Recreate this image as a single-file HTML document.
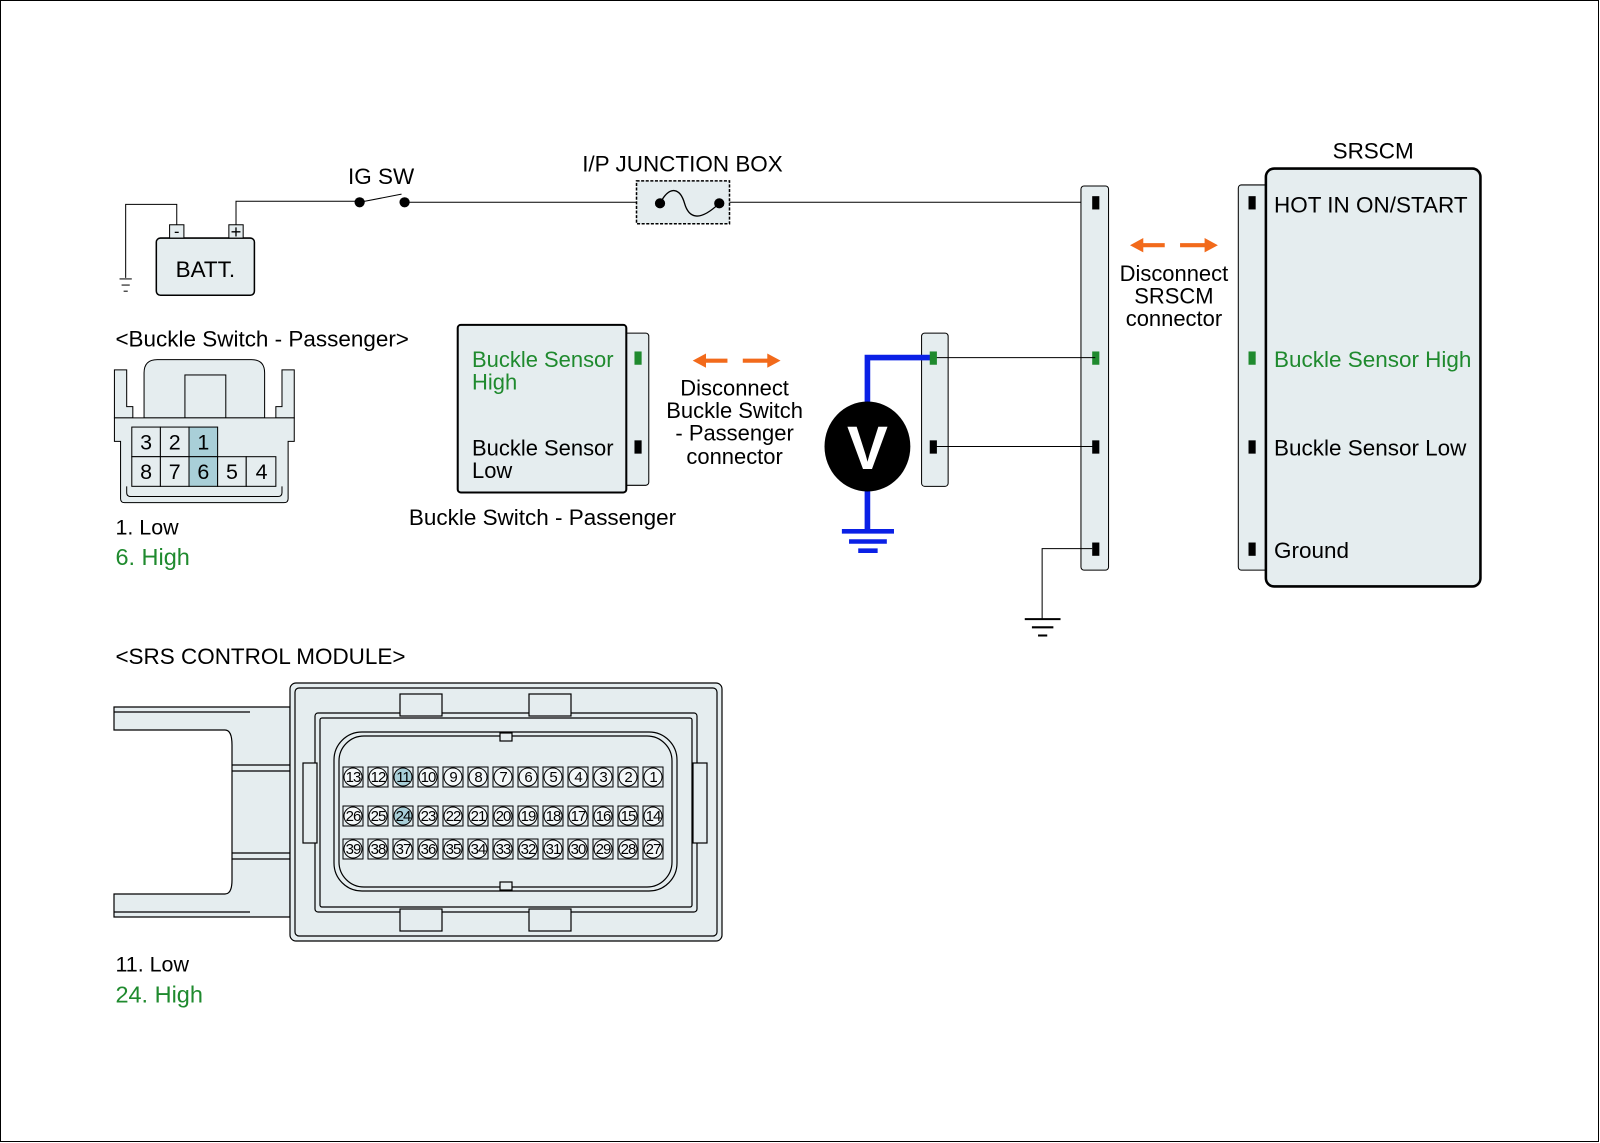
<!DOCTYPE html>
<html><head><meta charset="utf-8"><style>
html,body{margin:0;padding:0;background:#fff}
svg{display:block}
text{font-family:"Liberation Sans",Arial,sans-serif;fill:#000}
.g{fill:#1f8a2e}
</style></head><body>
<svg width="1600" height="1143" viewBox="0 0 1600 1143" xmlns="http://www.w3.org/2000/svg">
<rect x="0.5" y="0.5" width="1598" height="1141" fill="#fff" stroke="#000" stroke-width="1"/>
<g transform="scale(1.0217)">
<!-- battery -->
<rect x="153" y="233" width="96" height="56" rx="4" fill="#e5edef" stroke="#000" stroke-width="1.5"/>
<text x="201" y="271" font-size="22" text-anchor="middle">BATT.</text>
<rect x="166" y="220" width="14" height="13" fill="#e5edef" stroke="#000"/>
<rect x="224" y="220" width="14" height="13" fill="#e5edef" stroke="#000"/>
<text x="173" y="232" font-size="16" text-anchor="middle">-</text>
<text x="231" y="233" font-size="18" text-anchor="middle">+</text>
<polyline points="173,220 173,200 123,200 123,272" fill="none" stroke="#000"/>
<line x1="117" y1="273" x2="129" y2="273" stroke="#000"/>
<line x1="119" y1="279" x2="127" y2="279" stroke="#000"/>
<line x1="121" y1="285" x2="125" y2="285" stroke="#000"/>
<polyline points="231,220 231,197 352,197" fill="none" stroke="#000"/>
<circle cx="352" cy="198" r="5" fill="#000"/>
<circle cx="396" cy="198" r="5" fill="#000"/>
<line x1="352" y1="198" x2="393" y2="190" stroke="#000"/>
<line x1="396" y1="198" x2="1072" y2="198" stroke="#000"/>
<text x="373" y="180" font-size="22" text-anchor="middle">IG SW</text>
<!-- junction box -->
<rect x="623" y="177" width="91" height="42" fill="#e5edef" stroke="#000" stroke-width="1.5" stroke-dasharray="3,1.5"/>
<circle cx="646" cy="199" r="5" fill="#000"/>
<circle cx="704" cy="199" r="5" fill="#000"/>
<path d="M646,199 C656,180 666,185 670,199 C674,213 684,218 704,199" fill="none" stroke="#000" stroke-width="1.3"/>
<text x="668" y="168" font-size="22" text-anchor="middle">I/P JUNCTION BOX</text>
<!-- main connector bar -->
<rect x="1058" y="182" width="27" height="376" rx="3" fill="#e5edef" stroke="#000" stroke-width="1"/>
<rect x="1069" y="192" width="7" height="13" fill="#000"/>
<rect x="1069" y="344" width="7" height="13" fill="#1f8a2e"/>
<rect x="1069" y="431" width="7" height="13" fill="#000"/>
<rect x="1069" y="531" width="7" height="13" fill="#000"/>
<polyline points="1069,537 1020,537 1020,606" fill="none" stroke="#000"/>
<line x1="1003" y1="606" x2="1038" y2="606" stroke="#000" stroke-width="2"/>
<line x1="1010" y1="614" x2="1031" y2="614" stroke="#000" stroke-width="2"/>
<line x1="1016" y1="622" x2="1025" y2="622" stroke="#000" stroke-width="2"/>
<!-- arrows SRSCM -->
<g fill="#f26a1b" stroke="#f26a1b">
<line x1="1116" y1="240" x2="1140" y2="240" stroke-width="4"/>
<polygon points="1106,240 1119,233 1119,247" stroke="none"/>
<line x1="1155" y1="240" x2="1180" y2="240" stroke-width="4"/>
<polygon points="1192,240 1179,233 1179,247" stroke="none"/>
</g>
<text x="1149" y="275" font-size="21.5" text-anchor="middle">Disconnect</text>
<text x="1149" y="297" font-size="21.5" text-anchor="middle">SRSCM</text>
<text x="1149" y="319" font-size="21.5" text-anchor="middle">connector</text>
<!-- SRSCM -->
<text x="1344" y="155" font-size="22" text-anchor="middle">SRSCM</text>
<rect x="1212" y="181" width="30" height="377" rx="3" fill="#e5edef" stroke="#000" stroke-width="1"/>
<rect x="1239" y="165" width="210" height="409" rx="8" fill="#e5edef" stroke="#000" stroke-width="2.5"/>
<rect x="1222" y="192" width="7" height="13" fill="#000"/>
<rect x="1222" y="344" width="7" height="13" fill="#1f8a2e"/>
<rect x="1222" y="431" width="7" height="13" fill="#000"/>
<rect x="1222" y="531" width="7" height="13" fill="#000"/>
<text x="1247" y="208" font-size="22">HOT IN ON/START</text>
<text x="1247" y="359" font-size="22" class="g">Buckle Sensor High</text>
<text x="1247" y="446" font-size="22">Buckle Sensor Low</text>
<text x="1247" y="546" font-size="22">Ground</text>
<!-- buckle switch box -->
<rect x="610" y="326" width="25" height="149" rx="3" fill="#e5edef" stroke="#000" stroke-width="1"/>
<rect x="448" y="318" width="165" height="164" rx="3" fill="#e5edef" stroke="#000" stroke-width="2"/>
<rect x="621" y="344" width="7" height="13" fill="#1f8a2e"/>
<rect x="621" y="431" width="7" height="13" fill="#000"/>
<text x="462" y="359" font-size="21.5" class="g">Buckle Sensor</text>
<text x="462" y="381" font-size="21.5" class="g">High</text>
<text x="462" y="446" font-size="21.5">Buckle Sensor</text>
<text x="462" y="468" font-size="21.5">Low</text>
<text x="531" y="514" font-size="22" text-anchor="middle">Buckle Switch - Passenger</text>
<g fill="#f26a1b" stroke="#f26a1b">
<line x1="688" y1="353" x2="712" y2="353" stroke-width="4"/>
<polygon points="678,353 691,346 691,360" stroke="none"/>
<line x1="727" y1="353" x2="752" y2="353" stroke-width="4"/>
<polygon points="764,353 751,346 751,360" stroke="none"/>
</g>
<text x="719" y="387" font-size="21.5" text-anchor="middle">Disconnect</text>
<text x="719" y="409" font-size="21.5" text-anchor="middle">Buckle Switch</text>
<text x="719" y="431" font-size="21.5" text-anchor="middle">- Passenger</text>
<text x="719" y="454" font-size="21.5" text-anchor="middle">connector</text>
<!-- small connector + meter -->
<rect x="902" y="326" width="26" height="150" rx="3" fill="#e5edef" stroke="#000" stroke-width="1"/>
<line x1="914" y1="350" x2="1072" y2="350" stroke="#000"/>
<line x1="914" y1="437" x2="1072" y2="437" stroke="#000"/>
<polyline points="912,350 849,350 849,420" fill="none" stroke="#0a20e6" stroke-width="5.5"/>
<line x1="849" y1="460" x2="849" y2="520" stroke="#0a20e6" stroke-width="5.5"/>
<line x1="824" y1="520" x2="875" y2="520" stroke="#0a20e6" stroke-width="4.5"/>
<line x1="831" y1="530" x2="868" y2="530" stroke="#0a20e6" stroke-width="4.5"/>
<line x1="840" y1="539" x2="859" y2="539" stroke="#0a20e6" stroke-width="4.5"/>
<rect x="910" y="344" width="7" height="13" fill="#1f8a2e"/>
<rect x="910" y="431" width="7" height="13" fill="#000"/>
<ellipse cx="849" cy="437" rx="42" ry="44" fill="#000"/>
<text x="849" y="459" font-size="60" font-weight="bold" text-anchor="middle" style="fill:#fff">V</text>
<!-- buckle switch connector drawing -->
<text x="113" y="339" font-size="22">&lt;Buckle Switch - Passenger&gt;</text>
<g fill="#e5edef" stroke="#000" stroke-width="1">
<path d="M141,409 L141,365 Q141,352 154,352 L246,352 Q259,352 259,365 L259,409 Z"/>
<rect x="181" y="367" width="40" height="42"/>
<path d="M112,409 L112,362 L124,362 L124,398 L130,398 L130,409 Z"/>
<path d="M288,409 L288,362 L276,362 L276,398 L270,398 L270,409 Z"/>
<path d="M112,409 L288,409 L288,432 L282,432 L282,488 Q282,492 278,492 L122,492 Q118,492 118,488 L118,432 L112,432 Z"/>
<path d="M124,476 L124,482 Q124,486 128,486 L272,486 Q276,486 276,482 L276,476" fill="none"/>
<rect x="129" y="418" width="28" height="29"/>
<rect x="157" y="418" width="28" height="29"/>
<rect x="185" y="418" width="28" height="29" fill="#a9cfd8"/>
<rect x="129" y="447" width="28" height="29"/>
<rect x="157" y="447" width="28" height="29"/>
<rect x="185" y="447" width="28" height="29" fill="#a9cfd8"/>
<rect x="213" y="447" width="28" height="29"/>
<rect x="241" y="447" width="29" height="29"/>
</g>
<g font-size="21" text-anchor="middle">
<text x="143" y="440">3</text><text x="171" y="440">2</text><text x="199" y="440">1</text>
<text x="143" y="469">8</text><text x="171" y="469">7</text><text x="199" y="469">6</text><text x="227" y="469">5</text><text x="256" y="469">4</text>
</g>
<text x="113" y="523" font-size="21">1. Low</text>
<text x="113" y="553" font-size="23" class="g">6. High</text>
<text x="113" y="650" font-size="22">&lt;SRS CONTROL MODULE&gt;</text>
<text x="113" y="951" font-size="21">11. Low</text>
<text x="113" y="981" font-size="23" class="g">24. High</text>
</g>
<!-- SRS control module connector (actual coords) -->
<g fill="#e5edef" stroke="#000" stroke-width="1.2">
<path d="M114,707 L290,707 L290,917 L114,917 L114,894 L225,894 Q232,894 232,880 L232,745 Q232,730 225,730 L114,730 Z"/>
<line x1="114" y1="712" x2="250" y2="712"/><line x1="114" y1="912" x2="250" y2="912"/>
<line x1="232" y1="765" x2="290" y2="765"/><line x1="232" y1="771" x2="290" y2="771"/>
<line x1="232" y1="853" x2="290" y2="853"/><line x1="232" y1="859" x2="290" y2="859"/>
<rect x="290" y="683" width="432" height="258" rx="6"/>
<rect x="295" y="688" width="422" height="248" rx="4" fill="none"/>
<rect x="315" y="713" width="382" height="199" rx="3"/>
<rect x="320" y="718" width="372" height="189" rx="2" fill="none"/>
<rect x="400" y="694" width="42" height="22"/>
<rect x="529" y="694" width="42" height="22"/>
<rect x="400" y="909" width="42" height="22"/>
<rect x="529" y="909" width="42" height="22"/>
<rect x="334" y="732" width="343" height="159" rx="28"/>
<rect x="339" y="736" width="333" height="151" rx="25" fill="none"/>
<rect x="500" y="733" width="12" height="8"/>
<rect x="500" y="882" width="12" height="8"/>
<rect x="303" y="763" width="14" height="80"/>
<rect x="693" y="763" width="14" height="80"/>
</g>
<g id="pins" fill="#e5edef" stroke="#000" stroke-width="1">
<rect x="343" y="767" width="20" height="20"/><rect x="368" y="767" width="20" height="20"/><rect x="393" y="767" width="20" height="20"/><rect x="418" y="767" width="20" height="20"/><rect x="443" y="767" width="20" height="20"/><rect x="468" y="767" width="20" height="20"/><rect x="493" y="767" width="20" height="20"/><rect x="518" y="767" width="20" height="20"/><rect x="543" y="767" width="20" height="20"/><rect x="568" y="767" width="20" height="20"/><rect x="593" y="767" width="20" height="20"/><rect x="618" y="767" width="20" height="20"/><rect x="643" y="767" width="20" height="20"/>
<rect x="343" y="806" width="20" height="20"/><rect x="368" y="806" width="20" height="20"/><rect x="393" y="806" width="20" height="20"/><rect x="418" y="806" width="20" height="20"/><rect x="443" y="806" width="20" height="20"/><rect x="468" y="806" width="20" height="20"/><rect x="493" y="806" width="20" height="20"/><rect x="518" y="806" width="20" height="20"/><rect x="543" y="806" width="20" height="20"/><rect x="568" y="806" width="20" height="20"/><rect x="593" y="806" width="20" height="20"/><rect x="618" y="806" width="20" height="20"/><rect x="643" y="806" width="20" height="20"/>
<rect x="343" y="839" width="20" height="20"/><rect x="368" y="839" width="20" height="20"/><rect x="393" y="839" width="20" height="20"/><rect x="418" y="839" width="20" height="20"/><rect x="443" y="839" width="20" height="20"/><rect x="468" y="839" width="20" height="20"/><rect x="493" y="839" width="20" height="20"/><rect x="518" y="839" width="20" height="20"/><rect x="543" y="839" width="20" height="20"/><rect x="568" y="839" width="20" height="20"/><rect x="593" y="839" width="20" height="20"/><rect x="618" y="839" width="20" height="20"/><rect x="643" y="839" width="20" height="20"/>
</g>
<g fill="#f4f8f9" stroke="#000" stroke-width="1">
<circle cx="353" cy="777" r="9"/><circle cx="378" cy="777" r="9"/><circle cx="403" cy="777" r="9" fill="#a9cfd8"/><circle cx="428" cy="777" r="9"/><circle cx="453" cy="777" r="9"/><circle cx="478" cy="777" r="9"/><circle cx="503" cy="777" r="9"/><circle cx="528" cy="777" r="9"/><circle cx="553" cy="777" r="9"/><circle cx="578" cy="777" r="9"/><circle cx="603" cy="777" r="9"/><circle cx="628" cy="777" r="9"/><circle cx="653" cy="777" r="9"/>
<circle cx="353" cy="816" r="9"/><circle cx="378" cy="816" r="9"/><circle cx="403" cy="816" r="9" fill="#a9cfd8"/><circle cx="428" cy="816" r="9"/><circle cx="453" cy="816" r="9"/><circle cx="478" cy="816" r="9"/><circle cx="503" cy="816" r="9"/><circle cx="528" cy="816" r="9"/><circle cx="553" cy="816" r="9"/><circle cx="578" cy="816" r="9"/><circle cx="603" cy="816" r="9"/><circle cx="628" cy="816" r="9"/><circle cx="653" cy="816" r="9"/>
<circle cx="353" cy="849" r="9"/><circle cx="378" cy="849" r="9"/><circle cx="403" cy="849" r="9"/><circle cx="428" cy="849" r="9"/><circle cx="453" cy="849" r="9"/><circle cx="478" cy="849" r="9"/><circle cx="503" cy="849" r="9"/><circle cx="528" cy="849" r="9"/><circle cx="553" cy="849" r="9"/><circle cx="578" cy="849" r="9"/><circle cx="603" cy="849" r="9"/><circle cx="628" cy="849" r="9"/><circle cx="653" cy="849" r="9"/>
</g>
<g font-size="15" text-anchor="middle" letter-spacing="-1">
<text x="353" y="782">13</text><text x="378" y="782">12</text><text x="403" y="782">11</text><text x="428" y="782">10</text><text x="453" y="782">9</text><text x="478" y="782">8</text><text x="503" y="782">7</text><text x="528" y="782">6</text><text x="553" y="782">5</text><text x="578" y="782">4</text><text x="603" y="782">3</text><text x="628" y="782">2</text><text x="653" y="782">1</text>
<text x="353" y="821">26</text><text x="378" y="821">25</text><text x="403" y="821">24</text><text x="428" y="821">23</text><text x="453" y="821">22</text><text x="478" y="821">21</text><text x="503" y="821">20</text><text x="528" y="821">19</text><text x="553" y="821">18</text><text x="578" y="821">17</text><text x="603" y="821">16</text><text x="628" y="821">15</text><text x="653" y="821">14</text>
<text x="353" y="854">39</text><text x="378" y="854">38</text><text x="403" y="854">37</text><text x="428" y="854">36</text><text x="453" y="854">35</text><text x="478" y="854">34</text><text x="503" y="854">33</text><text x="528" y="854">32</text><text x="553" y="854">31</text><text x="578" y="854">30</text><text x="603" y="854">29</text><text x="628" y="854">28</text><text x="653" y="854">27</text>
</g>
</svg>
</body></html>
